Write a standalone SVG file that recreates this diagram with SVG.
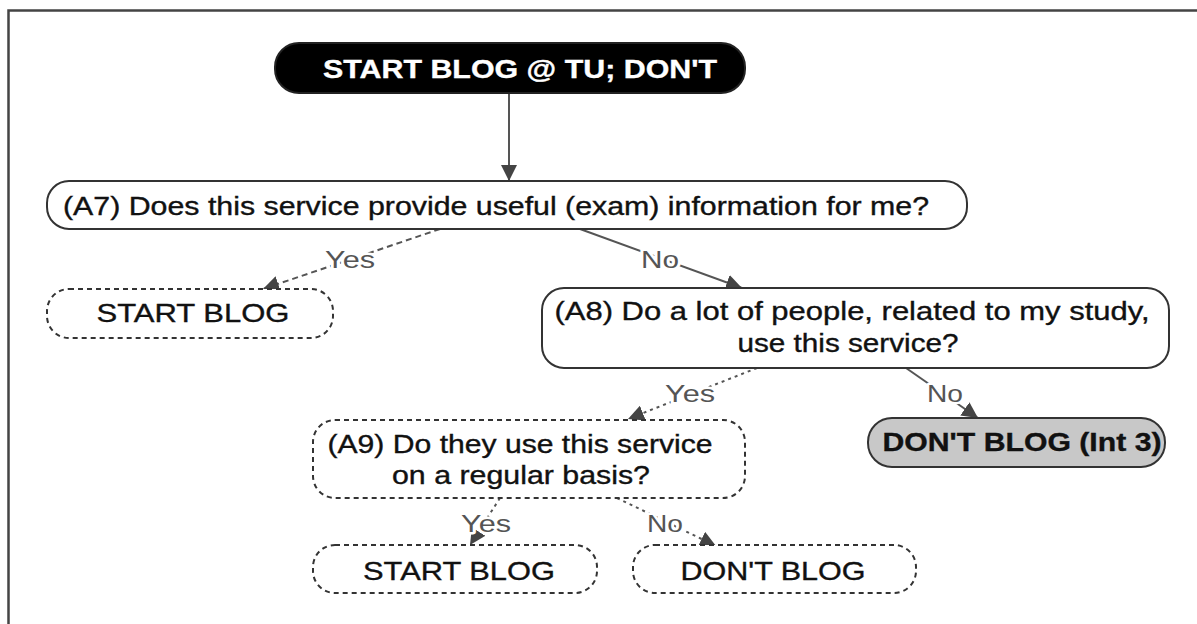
<svg xmlns="http://www.w3.org/2000/svg" width="1197" height="624" viewBox="0 0 1197 624">
<defs>
<style>
.frame{stroke:#444;stroke-width:2.5;fill:none}
.node{fill:#fff;stroke:#333;stroke-width:2}
.dash{stroke-dasharray:5 4}
.t{font-family:"Liberation Sans",Arial,sans-serif;font-size:25px;fill:#111;stroke:#111;stroke-width:0.35;text-anchor:middle}
.b{font-weight:bold}
.edge{stroke:#555;stroke-width:2;fill:none}
.lbl{font-family:"Liberation Sans",Arial,sans-serif;font-size:24px;fill:#555;text-anchor:middle;stroke:#fff;stroke-width:5;paint-order:stroke;stroke-linejoin:round}
</style>
<marker id="arr" markerUnits="userSpaceOnUse" markerWidth="18" markerHeight="16" refX="16" refY="8" orient="auto">
<path d="M0,0 L16,8 L0,16 Z" fill="#444"/>
</marker>
</defs>
<rect x="0" y="0" width="1197" height="624" fill="#fff"/>
<path class="frame" d="M8.5,624 V10.5 H1197"/>
<g id="connectors">
<line class="edge" x1="509" y1="93" x2="509" y2="181" marker-end="url(#arr)"/>
<line class="edge" x1="440" y1="229" x2="263" y2="289" stroke-dasharray="6 4" marker-end="url(#arr)"/>
<line class="edge" x1="580" y1="229" x2="742" y2="288" marker-end="url(#arr)"/>
<line class="edge" x1="757" y1="368" x2="628" y2="419" stroke-dasharray="3 4" marker-end="url(#arr)"/>
<line class="edge" x1="906" y1="368" x2="978" y2="418" marker-end="url(#arr)"/>
<line class="edge" x1="500" y1="498" x2="470" y2="545" stroke-dasharray="3 4" marker-end="url(#arr)"/>
<line class="edge" x1="617" y1="498" x2="716" y2="546" stroke-dasharray="3 4" marker-end="url(#arr)"/>
<text class="lbl" x="350" y="268" textLength="50" lengthAdjust="spacingAndGlyphs">Yes</text>
<text class="lbl" x="660" y="268" textLength="38" lengthAdjust="spacingAndGlyphs">No</text>
<text class="lbl" x="690" y="402" textLength="50" lengthAdjust="spacingAndGlyphs">Yes</text>
<text class="lbl" x="945" y="402" textLength="36" lengthAdjust="spacingAndGlyphs">No</text>
<text class="lbl" x="486" y="532" textLength="50" lengthAdjust="spacingAndGlyphs">Yes</text>
<text class="lbl" x="665" y="532" textLength="36" lengthAdjust="spacingAndGlyphs">No</text>
</g>
<g id="n-start">
<rect x="275" y="43" width="470" height="50" rx="24" fill="#000" stroke="#222" stroke-width="2"/>
<text class="t b" x="520" y="78" style="fill:#fff;stroke:#fff" textLength="394" lengthAdjust="spacingAndGlyphs">START BLOG @ TU; DON'T</text>
</g>
<g id="n-a7">
<rect class="node" x="47" y="181" width="920" height="48" rx="22"/>
<text class="t" x="496" y="215" textLength="866" lengthAdjust="spacingAndGlyphs">(A7) Does this service provide useful (exam) information for me?</text>
</g>
<g id="n-start1">
<rect class="node dash" x="47" y="289" width="286" height="49" rx="22"/>
<text class="t" x="193" y="322" textLength="193" lengthAdjust="spacingAndGlyphs">START BLOG</text>
</g>
<g id="n-a8">
<rect class="node" x="542" y="288" width="627" height="80" rx="22"/>
<text class="t" x="852" y="320" textLength="595" lengthAdjust="spacingAndGlyphs">(A8) Do a lot of people, related to my study,</text>
<text class="t" x="848" y="352" textLength="221" lengthAdjust="spacingAndGlyphs">use this service?</text>
</g>
<g id="n-a9">
<rect class="node dash" x="313" y="420" width="432" height="78" rx="22"/>
<text class="t" x="520" y="453" textLength="385" lengthAdjust="spacingAndGlyphs">(A9) Do they use this service</text>
<text class="t" x="521" y="484" textLength="258" lengthAdjust="spacingAndGlyphs">on a regular basis?</text>
</g>
<g id="n-dont3">
<rect x="868" y="418" width="297" height="49" rx="24" fill="#c8c8c8" stroke="#333" stroke-width="2"/>
<text class="t b" x="1022" y="451" textLength="279" lengthAdjust="spacingAndGlyphs">DON'T BLOG (Int 3)</text>
</g>
<g id="n-start2">
<rect class="node dash" x="313" y="545" width="284" height="48" rx="22"/>
<text class="t" x="459" y="580" textLength="192" lengthAdjust="spacingAndGlyphs">START BLOG</text>
</g>
<g id="n-dont">
<rect class="node dash" x="633" y="545" width="283" height="48" rx="22"/>
<text class="t" x="773" y="580" textLength="185" lengthAdjust="spacingAndGlyphs">DON'T BLOG</text>
</g>
</svg>
